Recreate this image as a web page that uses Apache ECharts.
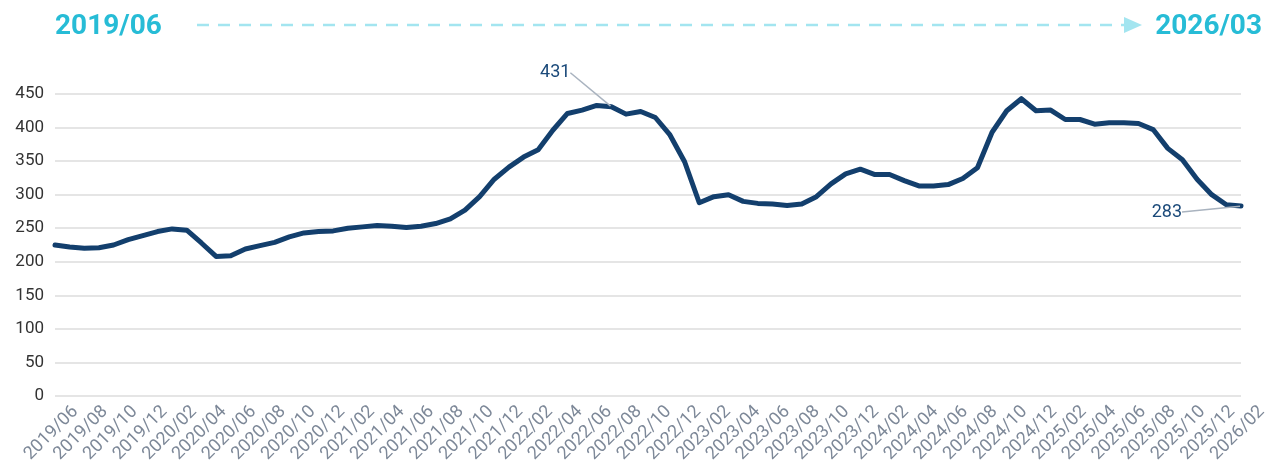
<!doctype html>
<html>
<head>
    <meta charset="utf-8">
    <title>2019/06 - 2026/03</title>
    <style>
        html, body { margin: 0; padding: 0; background: #fff; }
        #chartFun { width: 1269px; height: 464px; }
    </style>
</head>
<body>
<div id="chartFun"></div>
<script src="https://cdn.jsdelivr.net/npm/echarts@6/dist/echarts.min.js"></script>
<script>
    // 月份（2019/06 - 2026/03）
    var months = [
        '2019/06','2019/07','2019/08','2019/09','2019/10','2019/11','2019/12',
        '2020/01','2020/02','2020/03','2020/04','2020/05','2020/06','2020/07','2020/08','2020/09','2020/10','2020/11','2020/12',
        '2021/01','2021/02','2021/03','2021/04','2021/05','2021/06','2021/07','2021/08','2021/09','2021/10','2021/11','2021/12',
        '2022/01','2022/02','2022/03','2022/04','2022/05','2022/06','2022/07','2022/08','2022/09','2022/10','2022/11','2022/12',
        '2023/01','2023/02','2023/03','2023/04','2023/05','2023/06','2023/07','2023/08','2023/09','2023/10','2023/11','2023/12',
        '2024/01','2024/02','2024/03','2024/04','2024/05','2024/06','2024/07','2024/08','2024/09','2024/10','2024/11','2024/12',
        '2025/01','2025/02','2025/03','2025/04','2025/05','2025/06','2025/07','2025/08','2025/09','2025/10','2025/11','2025/12',
        '2026/01','2026/02','2026/03'
    ];
    // 数值
    var values = [
        225, 222, 220, 221, 225, 233, 239,
        245, 249, 247, 228, 208, 209, 219, 224, 229, 237, 243, 245,
        246, 250, 252, 254, 253, 251, 253, 257, 264, 277, 297, 323,
        341, 356, 367, 396, 421, 426, 433, 431, 420, 424, 415, 389,
        349, 288, 297, 300, 290, 287, 286, 284, 286, 297, 316, 331,
        338, 330, 330, 321, 313, 313, 315, 324, 340, 393, 425, 443,
        425, 426, 412, 412, 405, 407, 407, 406, 397, 369, 352, 323,
        300, 285, 283
    ];
    var yTicks = [0, 50, 100, 150, 200, 250, 300, 350, 400, 450];
    // 需要标注的点
    var labelIdx = [38, 81];

    var lineColor = '#133f6d';
    var cyan = '#27bcd6';

    var seriesData = values.map(function (v, i) {
        if (labelIdx.indexOf(i) > -1) {
            return { value: v, label: { show: true } };
        }
        return v;
    });

    var myChart = echarts.init(document.getElementById('chartFun'), null, { renderer: 'canvas' });
    var option = {
        animation: false,
        backgroundColor: '#fff',
        textStyle: { fontFamily: 'Roboto' },
        grid: [
            { left: 55, right: 28, top: 94, bottom: 68, outerBoundsMode: 'none' },
            // 只放月份标签（原图标签比点略偏右）
            { left: 68, right: -15, top: 94, bottom: 68, outerBoundsMode: 'none' }
        ],
        graphic: [
            {
                type: 'text', left: 55, top: 13,
                style: { text: '2019/06', fill: cyan, font: 'bold 28px Roboto' }
            },
            {
                type: 'text', right: 7, top: 13,
                style: { text: '2026/03', fill: cyan, font: 'bold 28px Roboto' }
            },
            {
                type: 'line',
                shape: { x1: 197, y1: 25, x2: 1126, y2: 25 },
                style: { stroke: '#a3e5f0', lineWidth: 2.5, lineDash: [12, 9] }
            },
            {
                type: 'polygon',
                shape: { points: [[1124, 17], [1142, 25], [1124, 33]] },
                style: { fill: '#a3e5f0' }
            }
        ],
        xAxis: [
            {
                type: 'category',
                data: months,
                boundaryGap: false,
                axisLine: { show: false },
                axisTick: { show: false },
                axisLabel: { show: false }
            },
            {
                type: 'category',
                gridIndex: 1,
                data: months,
                boundaryGap: true,
                axisLine: { show: false },
                axisTick: { show: false },
                splitLine: { show: false },
                axisLabel: {
                    interval: 1,
                    rotate: 45,
                    margin: 13,
                    color: '#7d8898',
                    fontSize: 18,
                    fontFamily: 'Roboto'
                }
            }
        ],
        yAxis: [
            {
                type: 'value',
                min: yTicks[0],
                max: yTicks[yTicks.length - 1],
                interval: 50,
                axisLine: { show: false },
                axisTick: { show: false },
                axisLabel: { color: '#333', fontSize: 17, margin: 11, fontFamily: 'Roboto' },
                splitLine: { lineStyle: { color: '#dcdcdc', width: 1.5 } }
            },
            { type: 'value', gridIndex: 1, show: false, min: 0, max: 450 }
        ],
        series: [{
            type: 'line',
            data: seriesData,
            symbol: 'circle',
            symbolSize: 2,
            showSymbol: true,
            itemStyle: { color: lineColor },
            lineStyle: { color: lineColor, width: 5, join: 'round', cap: 'round' },
            label: { show: false, color: '#1b4a7a', fontSize: 18, fontFamily: 'Roboto' },
            labelLine: { show: true, lineStyle: { color: '#a9b3bf', width: 1.5 } },
            labelLayout: function (p) {
                var cx = p.rect.x + p.rect.width / 2;
                var cy = p.rect.y + p.rect.height / 2;
                if (p.dataIndex === labelIdx[0]) {
                    return {
                        x: cx - 41, y: cy - 34, align: 'right', verticalAlign: 'middle',
                        labelLinePoints: [[cx + 14, cy + 6], [cx - 15, cy - 25], [cx - 31, cy - 25]]
                    };
                }
                return {
                    x: cx - 59, y: cy + 6, align: 'right', verticalAlign: 'middle',
                    labelLinePoints: [[cx - 2, cy], [cx - 42, cy + 7], [cx - 55, cy + 7]]
                };
            }
        }]
    };
    myChart.setOption(option);
</script>
</body>
</html>
